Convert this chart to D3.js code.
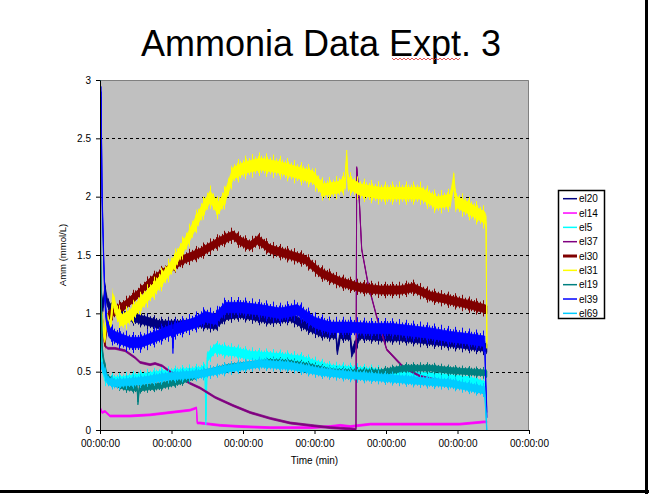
<!DOCTYPE html>
<html>
<head>
<meta charset="utf-8">
<script src="https://cdn.jsdelivr.net/npm/d3@7"></script>
<style>
  body { margin: 0; background: #fff; }
  text { font-family: Arial, "Liberation Sans", sans-serif; }
</style>
</head>
<body>
<script>
'use strict';

// series names, colours and the half width of each trace's noise band (mmol/L)
const seriesNames = ["el20", "el14", "el5", "el37", "el30", "el31", "el19", "el39", "el69"];
const seriesColors = ["#000080", "#ff00ff", "#00ffff", "#800080", "#800000", "#ffff00", "#008080", "#0000ff", "#00ccff"];
const noiseHalfWidth = [0.035, 0.008, 0.035, 0.008, 0.035, 0.05, 0.025, 0.045, 0.03];

// x tick labels (the source axis only shows zero times)
const xTickValues = [0, 1, 2, 3, 4, 5, 6];
const xTickLabel = "00:00:00";
const yTickValues = [0, 0.5, 1, 1.5, 2, 2.5, 3];
const gridValues = [0.5, 1, 1.5, 2, 2.5];

// time (axis units) and ammonia (mmol/L)
const t20 = [0, 0.02, 0.04, 0.07, 0.10, 0.14, 0.21, 0.35, 0.56, 0.84, 1.12, 1.40, 1.61, 1.75, 1.96, 2.38, 2.66, 2.87, 3.08, 3.30, 3.32, 3.36, 3.50, 3.52, 3.64, 3.92, 4.20, 4.48, 4.90, 5.38, 5.41];
const v20 = [0.45, 1.15, 1.05, 1.20, 1.10, 1.05, 1.02, 0.98, 0.95, 0.90, 0.90, 0.92, 0.90, 0.98, 1.00, 0.95, 0.97, 0.90, 0.84, 0.82, 0.68, 0.82, 0.81, 0.66, 0.82, 0.80, 0.80, 0.78, 0.75, 0.71, 0.70];

const t14 = [0, 0.01, 0.03, 0.07, 0.14, 0.42, 0.70, 0.98, 1.26, 1.35, 1.36, 1.40, 1.54, 1.68, 1.96, 2.38, 2.66, 2.94, 3.22, 3.36, 3.50, 3.78, 4.20, 4.62, 5.03, 5.38, 5.41];
const v14 = [0.00, 0.18, 0.15, 0.16, 0.12, 0.12, 0.13, 0.15, 0.17, 0.19, 0.06, 0.06, 0.05, 0.04, 0.03, 0.02, 0.02, 0.02, 0.03, 0.04, 0.03, 0.05, 0.05, 0.05, 0.05, 0.07, 0.07];

const t5 = [0, 0.01, 0.03, 0.07, 0.14, 0.28, 0.84, 1.40, 1.47, 1.48, 1.50, 1.61, 1.75, 1.89, 2.10, 2.52, 2.80, 3.22, 3.64, 4.20, 4.76, 5.17, 5.38];
const v5 = [0.00, 0.75, 0.55, 0.45, 0.42, 0.42, 0.47, 0.50, 0.52, 0.08, 0.62, 0.70, 0.68, 0.67, 0.64, 0.62, 0.60, 0.52, 0.50, 0.47, 0.45, 0.42, 0.38];

const t37 = [0, 0.03, 0.07, 0.11, 0.21, 0.35, 0.49, 0.56, 0.70, 0.77, 0.87, 0.98, 1.12, 1.26, 1.40, 1.61, 1.86, 2.10, 2.38, 2.66, 2.94, 3.22, 3.50, 3.58, 3.59, 3.62, 3.66, 3.75, 3.87, 4.01, 4.24, 4.48, 4.90, 5.17, 5.38];
const v37 = [0.80, 0.85, 0.72, 0.70, 0.70, 0.68, 0.62, 0.58, 0.56, 0.57, 0.55, 0.50, 0.45, 0.40, 0.36, 0.28, 0.21, 0.15, 0.10, 0.06, 0.04, 0.02, 0.01, 0.005, 2.25, 2.05, 1.55, 1.25, 0.97, 0.69, 0.54, 0.46, 0.40, 0.36, 0.32];

const t30 = [0, 0.03, 0.07, 0.10, 0.14, 0.21, 0.35, 0.56, 0.70, 0.94, 1.16, 1.40, 1.68, 1.86, 1.96, 2.10, 2.21, 2.38, 2.66, 2.87, 3.08, 3.36, 3.64, 3.92, 4.20, 4.38, 4.62, 4.85, 5.13, 5.38, 5.41];
const v30 = [1.10, 0.95, 0.75, 0.95, 1.00, 1.02, 1.07, 1.18, 1.27, 1.37, 1.46, 1.52, 1.62, 1.67, 1.62, 1.58, 1.63, 1.55, 1.50, 1.46, 1.35, 1.27, 1.22, 1.20, 1.20, 1.22, 1.15, 1.12, 1.08, 1.04, 1.03];

const t31 = [0, 0.03, 0.06, 0.10, 0.14, 0.18, 0.24, 0.31, 0.42, 0.56, 0.77, 0.94, 1.05, 1.22, 1.40, 1.54, 1.65, 1.75, 1.86, 2.03, 2.24, 2.52, 2.80, 2.98, 3.12, 3.33, 3.43, 3.45, 3.47, 3.64, 3.92, 4.20, 4.48, 4.71, 4.90, 4.95, 4.97, 5.00, 5.13, 5.38, 5.40, 5.41];
const v31 = [0.75, 0.95, 0.80, 0.95, 0.85, 1.12, 1.00, 0.94, 0.98, 1.08, 1.22, 1.35, 1.45, 1.63, 1.85, 2.00, 1.90, 2.00, 2.20, 2.25, 2.28, 2.25, 2.20, 2.17, 2.06, 2.08, 2.12, 2.35, 2.12, 2.06, 2.03, 2.03, 2.03, 1.95, 1.97, 2.15, 1.97, 1.95, 1.91, 1.82, 1.78, 0.75];

const t19 = [0, 0.01, 0.03, 0.05, 0.10, 0.21, 0.35, 0.52, 0.53, 0.55, 0.84, 1.12, 1.40, 1.61, 1.82, 2.10, 2.38, 2.66, 2.94, 3.22, 3.50, 3.92, 4.27, 4.62, 4.90, 5.38, 5.41];
const v19 = [3.00, 1.50, 0.70, 0.60, 0.45, 0.40, 0.37, 0.36, 0.24, 0.36, 0.38, 0.42, 0.48, 0.51, 0.54, 0.56, 0.58, 0.57, 0.54, 0.50, 0.49, 0.49, 0.53, 0.53, 0.51, 0.49, 0.48];

const t39 = [0, 0.014, 0.03, 0.05, 0.07, 0.10, 0.14, 0.21, 0.42, 0.56, 0.77, 1.01, 1.02, 1.03, 1.33, 1.47, 1.61, 1.75, 1.96, 2.24, 2.52, 2.76, 2.87, 3.01, 3.22, 3.50, 3.78, 4.06, 4.34, 4.62, 4.90, 5.17, 5.38, 5.40, 5.41];
const v39 = [0.45, 2.90, 2.00, 1.50, 1.10, 0.90, 0.83, 0.80, 0.75, 0.75, 0.80, 0.86, 0.70, 0.86, 0.92, 0.97, 0.95, 1.05, 1.05, 1.03, 1.00, 1.03, 0.98, 0.92, 0.88, 0.88, 0.87, 0.87, 0.85, 0.83, 0.80, 0.78, 0.76, 0.30, 0.15];

const t69 = [0, 0.03, 0.11, 0.21, 0.56, 0.98, 1.40, 1.82, 2.24, 2.66, 3.08, 3.50, 3.92, 4.48, 4.90, 5.38, 5.41];
const v69 = [0.55, 0.55, 0.42, 0.40, 0.42, 0.46, 0.48, 0.53, 0.57, 0.55, 0.50, 0.47, 0.45, 0.42, 0.40, 0.34, 0.00];

const seriesTimes = [t20, t14, t5, t37, t30, t31, t19, t39, t69];
const seriesValues = [v20, v14, v5, v37, v30, v31, v19, v39, v69];

(function() {

  let svgContainer = "";
  let x = "";
  let y = "";

  window.onload = function() {
    svgContainer = d3.select('body')
      .append('svg')
      .attr('width', 649)
      .attr('height', 494);

    drawSlide();
    drawPlotArea();
    drawSeries();
    drawAxes();
    drawLegend();
  }

  // slide title and the dark slide edges
  function drawSlide() {
    svgContainer.append('rect')
      .attr('width', 649).attr('height', 494)
      .attr('fill', '#fff');

    svgContainer.append('line')
      .attr('x1', 646.5).attr('x2', 646.5).attr('y1', 0).attr('y2', 494)
      .attr('stroke', '#000').attr('stroke-width', 3);
    svgContainer.append('line')
      .attr('x1', 0).attr('x2', 649).attr('y1', 491.5).attr('y2', 491.5)
      .attr('stroke', '#000').attr('stroke-width', 3);

    svgContainer.append('text')
      .attr('x', 321)
      .attr('y', 56)
      .attr('text-anchor', 'middle')
      .style('font-size', '36px')
      .text('Ammonia Data Expt. 3');

    // spell check squiggle under "Expt"
    let pts = [];
    for (let px = 392; px <= 460; px += 2) {
      pts.push([px, (px / 2) % 2 === 0 ? 58 : 60]);
    }
    svgContainer.append('path')
      .attr('d', d3.line()(pts))
      .attr('fill', 'none')
      .attr('stroke', '#e03030')
      .attr('stroke-width', 0.8);
  }

  function drawPlotArea() {
    x = d3.scaleLinear().domain([0, 6]).range([100, 529]);
    y = d3.scaleLinear().domain([0, 3]).range([430, 80]);

    svgContainer.append('rect')
      .attr('x', x(0)).attr('y', y(3))
      .attr('width', x(6) - x(0)).attr('height', y(0) - y(3))
      .attr('fill', '#c0c0c0');

    // top and right border of the plot area
    svgContainer.append('path')
      .attr('d', 'M' + x(0) + ',' + (y(3) + 0.5) + 'H' + (x(6) - 0.5) + 'V' + y(0))
      .attr('fill', 'none')
      .attr('stroke', '#808080');

    svgContainer.selectAll('.grid')
      .data(gridValues)
      .enter()
      .append('line')
        .attr('class', 'grid')
        .attr('x1', x(0)).attr('x2', x(6))
        .attr('y1', (d) => Math.round(y(d)) + 0.5)
        .attr('y2', (d) => Math.round(y(d)) + 0.5)
        .attr('stroke', '#000')
        .attr('stroke-dasharray', '3,3');

    let defs = svgContainer.append('defs');

    defs.append('clipPath')
      .attr('id', 'plotclip')
      .append('rect')
        .attr('x', x(0)).attr('y', y(3))
        .attr('width', x(6) - x(0)).attr('height', y(0) - y(3));

    // hairline stripe patterns, used to give the noisy traces a ragged edge
    seriesColors.forEach((c, i) => {
      [[3, 'a'], [7, 'b']].forEach((p) => {
        defs.append('pattern')
          .attr('id', 'hair' + p[1] + i)
          .attr('patternUnits', 'userSpaceOnUse')
          .attr('width', p[0]).attr('height', 10)
          .append('rect')
            .attr('width', 1).attr('height', 10)
            .attr('fill', c);
      });
    });
  }

  // each trace = a ragged fringe + a solid band for the sensor noise, then the centre line
  function drawSeries() {
    let g = svgContainer.append('g').attr('clip-path', 'url(#plotclip)');

    seriesNames.forEach((name, i) => {
      let pts = seriesTimes[i].map((t, j) => ({t: t, v: seriesValues[i][j]}));
      let w = noiseHalfWidth[i];

      let band = (k) => d3.area()
        .x((d) => x(d.t))
        .y0((d) => y(d.v - w * k))
        .y1((d) => y(d.v + w * k));

      let line = d3.line()
        .x((d) => x(d.t))
        .y((d) => y(d.v));

      if (w >= 0.02) {
        g.append('path')
          .datum(pts)
          .attr('d', band(2.0))
          .attr('fill', 'url(#hairb' + i + ')');
        g.append('path')
          .datum(pts)
          .attr('d', band(1.45))
          .attr('fill', 'url(#haira' + i + ')');
      }

      g.append('path')
        .datum(pts)
        .attr('d', band(1))
        .attr('fill', seriesColors[i])
        .attr('stroke', seriesColors[i])
        .attr('stroke-width', 0.8);

      g.append('path')
        .datum(pts)
        .attr('d', line)
        .attr('fill', 'none')
        .attr('stroke', seriesColors[i])
        .attr('stroke-width', name === 'el30' ? 1.6 : 1);
    });
  }

  function drawAxes() {
    let xAxis = d3.axisBottom(x)
      .tickValues(xTickValues)
      .tickFormat(() => xTickLabel)
      .tickSizeInner(4)
      .tickSizeOuter(0)
      .tickPadding(6);

    let yAxis = d3.axisLeft(y)
      .tickValues(yTickValues)
      .tickFormat(d3.format('~g'))
      .tickSizeInner(4)
      .tickSizeOuter(0)
      .tickPadding(5);

    let gx = svgContainer.append('g')
      .attr('transform', 'translate(0,' + y(0) + ')')
      .call(xAxis);

    let gy = svgContainer.append('g')
      .attr('transform', 'translate(' + x(0) + ',0)')
      .call(yAxis);

    [gx, gy].forEach((ax) => {
      ax.selectAll('path, line').attr('stroke', '#000');
      ax.selectAll('text')
        .attr('fill', '#000')
        .style('font-family', 'Arial, "Liberation Sans", sans-serif')
        .style('font-size', '10px');
    });

    svgContainer.append('text')
      .attr('x', (x(0) + x(6)) / 2)
      .attr('y', 464)
      .attr('text-anchor', 'middle')
      .style('font-size', '10px')
      .text('Time (min)');

    svgContainer.append('text')
      .attr('transform', 'translate(66,' + y(1.5) + ')rotate(-90)')
      .attr('text-anchor', 'middle')
      .style('font-size', '9.5px')
      .text('Amm (mmol/L)');
  }

  function drawLegend() {
    let lg = svgContainer.append('g');

    lg.append('rect')
      .attr('x', 558.5).attr('y', 190.5)
      .attr('width', 46).attr('height', 128)
      .attr('fill', '#fff')
      .attr('stroke', '#000')
      .attr('stroke-width', 1.5);

    let rows = lg.selectAll('.entry')
      .data(seriesNames)
      .enter()
      .append('g')
        .attr('class', 'entry')
        .attr('transform', (d, i) => 'translate(0,' + (198.7 + i * 14.33) + ')');

    rows.append('line')
      .attr('x1', 563).attr('x2', 577)
      .attr('stroke', (d, i) => seriesColors[i])
      .attr('stroke-width', (d) => d === 'el30' ? 3 : 1.5);

    rows.append('text')
      .attr('x', 579)
      .attr('dy', '0.35em')
      .style('font-size', '10px')
      .text((d) => d);
  }
})();
</script>
</body>
</html>
